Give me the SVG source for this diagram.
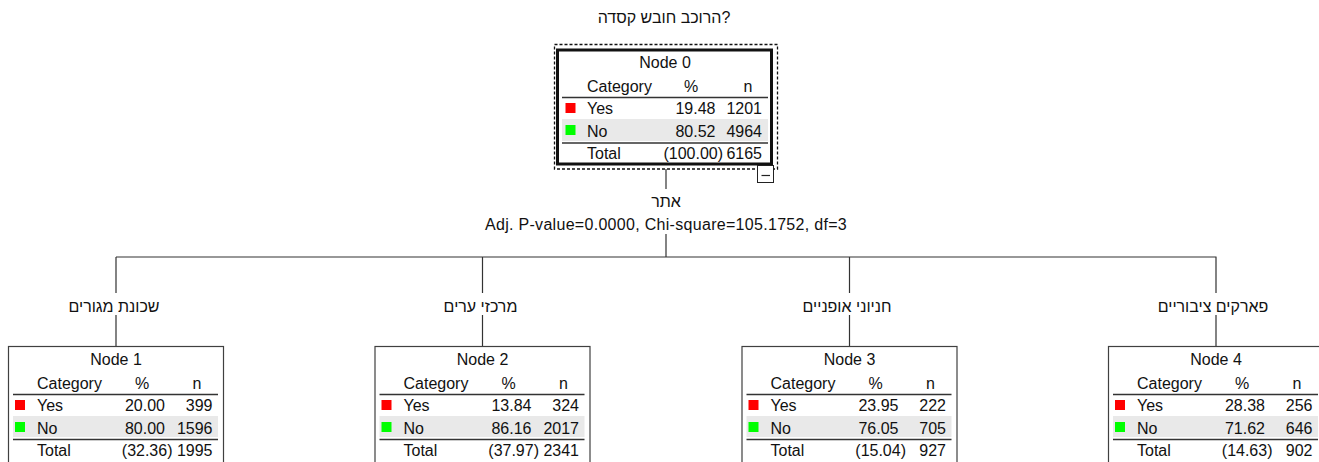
<svg xmlns="http://www.w3.org/2000/svg" width="1319" height="462" viewBox="0 0 1319 462">
<style>
text{font-family:"Liberation Sans",Arial,"DejaVu Sans",sans-serif;font-size:16px;fill:#111}
.m{text-anchor:middle}.e{text-anchor:end}
.box{fill:#fff;stroke:#404040;stroke-width:1.2}
.box0{fill:#fff;stroke:#111;stroke-width:3}
.rule{stroke:#333;stroke-width:1.5}
.bg{fill:#e9e9e9}
.red{fill:#ff0000}.grn{fill:#00ff00}
.conn{stroke:#333;stroke-width:1.2;fill:none}
</style>
<text class="m" x="664" y="23">הרוכב חובש קסדה?</text>
<g id="connectors">
<path class="conn" d="M666 169V189M666 234V257M116 257H1216.5M116 257V293M116 315V346M482.5 257V293M482.5 315V346M849.5 257V293M849.5 315V346M1216 257V293M1216 315V346"/>
</g>
<g id="split-label">
<text class="m" x="666" y="207">אתר</text>
<text class="m" x="666" y="230" letter-spacing="0.3">Adj. P-value=0.0000, Chi-square=105.1752, df=3</text>
</g>
<g id="edge-labels">
<text class="m" x="114" y="312">שכונת מגורים</text>
<text class="m" x="480.5" y="312">מרכזי ערים</text>
<text class="m" x="847" y="312">חניוני אופניים</text>
<text class="m" x="1213" y="312">פארקים ציבוריים</text>
</g>
<g id="node0">
<rect x="554.5" y="44.5" width="223" height="124.5" fill="none" stroke="#111" stroke-width="1.3" stroke-dasharray="3 2"/>
<g transform="translate(557,49)">
<rect class="box0" x="0.5" y="1" width="214" height="114"/>
<text class="m" x="108" y="19">Node 0</text>
<text x="30" y="42.5">Category</text><text class="m" x="134" y="42.5">%</text><text class="m" x="191" y="42.5">n</text>
<line class="rule" x1="5" y1="48.5" x2="211" y2="48.5"/>
<rect class="red" x="8.5" y="54" width="10" height="10"/>
<text x="30" y="65">Yes</text><text class="e" x="158.5" y="65">19.48</text><text class="e" x="205" y="65">1201</text>
<rect class="bg" x="5" y="70" width="206" height="22"/>
<rect class="grn" x="8.5" y="76" width="10" height="10"/>
<text x="30" y="87.5">No</text><text class="e" x="158.5" y="87.5">80.52</text><text class="e" x="205" y="87.5">4964</text>
<line class="rule" x1="5" y1="94" x2="211" y2="94"/>
<text x="30" y="110">Total</text><text class="e" x="166" y="110">(100.00)</text><text class="e" x="205" y="110">6165</text>
</g>
<rect x="757.5" y="165.5" width="16" height="17" fill="#fff" stroke="#222"/>
<line x1="761.5" y1="175.5" x2="770" y2="175.5" stroke="#222" stroke-width="1.2"/>
</g>
<g id="node1" transform="translate(8,346)">
<rect class="box" x="0.5" y="0.5" width="215" height="130"/>
<text class="m" x="108" y="19">Node 1</text>
<text x="29" y="42.5">Category</text><text class="m" x="134" y="42.5">%</text><text class="m" x="189" y="42.5">n</text>
<line class="rule" x1="5" y1="48.5" x2="210" y2="48.5"/>
<rect class="red" x="7" y="54" width="10" height="10"/>
<text x="29" y="65">Yes</text><text class="e" x="157" y="65">20.00</text><text class="e" x="204.5" y="65">399</text>
<rect class="bg" x="5" y="70" width="205" height="21"/>
<rect class="grn" x="7" y="76" width="10" height="10"/>
<text x="29" y="87.5">No</text><text class="e" x="157" y="87.5">80.00</text><text class="e" x="204.5" y="87.5">1596</text>
<line class="rule" x1="5" y1="93.5" x2="210" y2="93.5"/>
<text x="29" y="110">Total</text><text class="e" x="164.5" y="110">(32.36)</text><text class="e" x="204.5" y="110">1995</text>
</g>
<g id="node2" transform="translate(374.5,346)">
<rect class="box" x="0.5" y="0.5" width="215" height="130"/>
<text class="m" x="108" y="19">Node 2</text>
<text x="29" y="42.5">Category</text><text class="m" x="134" y="42.5">%</text><text class="m" x="189" y="42.5">n</text>
<line class="rule" x1="5" y1="48.5" x2="210" y2="48.5"/>
<rect class="red" x="7" y="54" width="10" height="10"/>
<text x="29" y="65">Yes</text><text class="e" x="157" y="65">13.84</text><text class="e" x="204.5" y="65">324</text>
<rect class="bg" x="5" y="70" width="205" height="21"/>
<rect class="grn" x="7" y="76" width="10" height="10"/>
<text x="29" y="87.5">No</text><text class="e" x="157" y="87.5">86.16</text><text class="e" x="204.5" y="87.5">2017</text>
<line class="rule" x1="5" y1="93.5" x2="210" y2="93.5"/>
<text x="29" y="110">Total</text><text class="e" x="164.5" y="110">(37.97)</text><text class="e" x="204.5" y="110">2341</text>
</g>
<g id="node3" transform="translate(741.5,346)">
<rect class="box" x="0.5" y="0.5" width="215" height="130"/>
<text class="m" x="108" y="19">Node 3</text>
<text x="29" y="42.5">Category</text><text class="m" x="134" y="42.5">%</text><text class="m" x="189" y="42.5">n</text>
<line class="rule" x1="5" y1="48.5" x2="210" y2="48.5"/>
<rect class="red" x="7" y="54" width="10" height="10"/>
<text x="29" y="65">Yes</text><text class="e" x="157" y="65">23.95</text><text class="e" x="204.5" y="65">222</text>
<rect class="bg" x="5" y="70" width="205" height="21"/>
<rect class="grn" x="7" y="76" width="10" height="10"/>
<text x="29" y="87.5">No</text><text class="e" x="157" y="87.5">76.05</text><text class="e" x="204.5" y="87.5">705</text>
<line class="rule" x1="5" y1="93.5" x2="210" y2="93.5"/>
<text x="29" y="110">Total</text><text class="e" x="164.5" y="110">(15.04)</text><text class="e" x="204.5" y="110">927</text>
</g>
<g id="node4" transform="translate(1108,346)">
<rect class="box" x="0.5" y="0.5" width="215" height="130"/>
<text class="m" x="108" y="19">Node 4</text>
<text x="29" y="42.5">Category</text><text class="m" x="134" y="42.5">%</text><text class="m" x="189" y="42.5">n</text>
<line class="rule" x1="5" y1="48.5" x2="210" y2="48.5"/>
<rect class="red" x="7" y="54" width="10" height="10"/>
<text x="29" y="65">Yes</text><text class="e" x="157" y="65">28.38</text><text class="e" x="204.5" y="65">256</text>
<rect class="bg" x="5" y="70" width="205" height="21"/>
<rect class="grn" x="7" y="76" width="10" height="10"/>
<text x="29" y="87.5">No</text><text class="e" x="157" y="87.5">71.62</text><text class="e" x="204.5" y="87.5">646</text>
<line class="rule" x1="5" y1="93.5" x2="210" y2="93.5"/>
<text x="29" y="110">Total</text><text class="e" x="164.5" y="110">(14.63)</text><text class="e" x="204.5" y="110">902</text>
</g>
</svg>
